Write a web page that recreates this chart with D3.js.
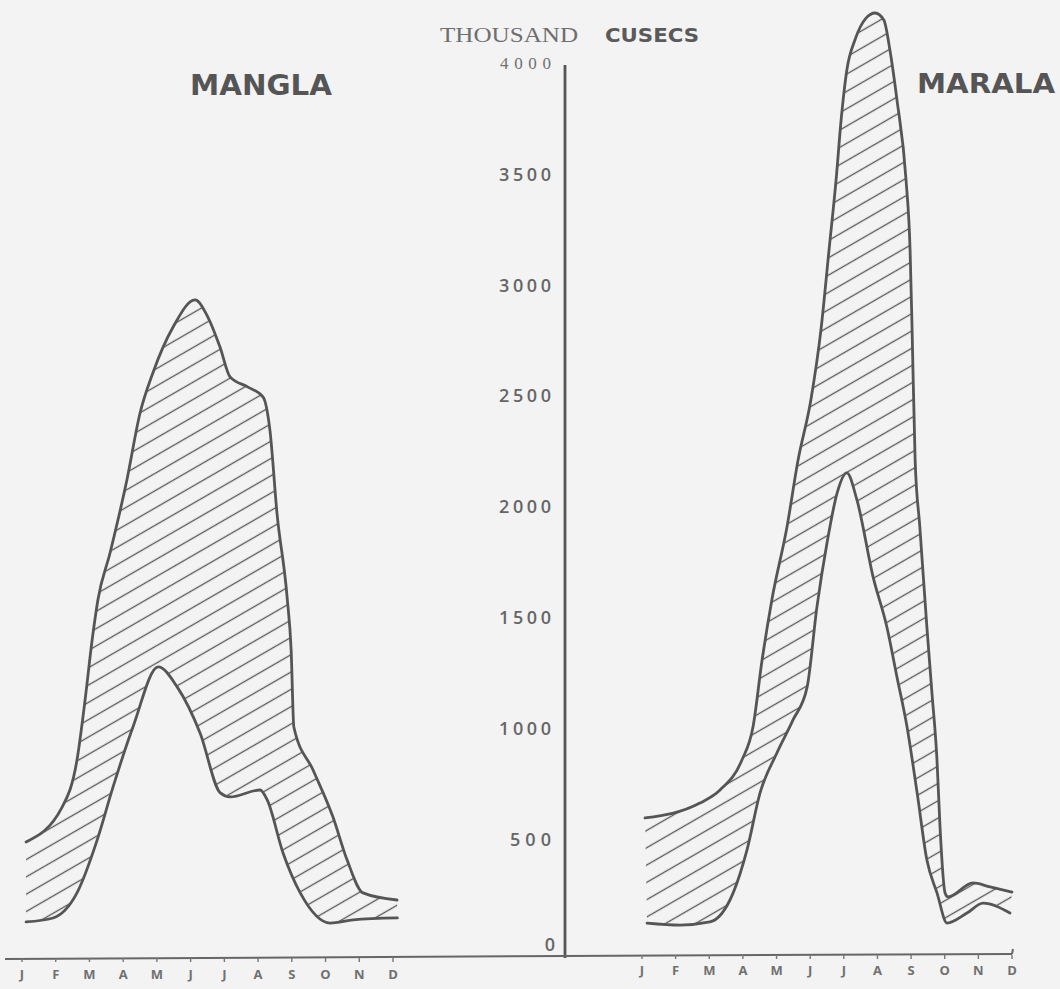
<!DOCTYPE html>
<html><head><meta charset="utf-8">
<script src="https://cdn.jsdelivr.net/npm/d3@7"></script>
<style>
html,body{margin:0;padding:0;background:#f3f3f3;}
svg{display:block;}
</style></head>
<body>
<script>
// ---- data (month index 0=J ... 11=D, value in thousand cusecs) ----
const months = ["J","F","M","A","M","J","J","A","S","O","N","D"];
const yTicks = [0,500,1000,1500,2000,2500,3000,3500,4000];
const manglaUpper = [[0.12,510],[1.19,667],[1.63,879],[1.87,1150],[2.08,1421],[2.25,1601],[2.61,1813],[3.11,2142],[3.50,2444],[3.88,2625],[4.48,2832],[5.13,2954],[5.51,2877],[5.87,2742],[6.17,2607],[6.70,2561],[7.15,2516],[7.35,2368],[7.56,1993],[7.86,1614],[7.98,1375],[8.06,1028],[8.63,834],[9.22,622],[9.64,428],[10.11,280],[11.12,248]];
const manglaLower = [[0.12,149],[0.92,167],[1.63,280],[2.23,519],[2.70,758],[3.29,1028],[4.04,1299],[4.60,1209],[5.28,1001],[5.88,731],[6.17,713],[7.06,744],[7.27,699],[7.74,460],[8.25,280],[9.14,144],[9.82,158],[11.13,167]];
const maralaUpper = [[0.09,618],[1.72,685],[2.32,744],[2.97,879],[3.30,1028],[3.57,1330],[3.86,1601],[4.31,1930],[4.64,2232],[5.02,2503],[5.32,2819],[5.56,3179],[5.77,3495],[5.92,3766],[6.09,3991],[6.33,4126],[6.66,4225],[6.93,4248],[7.19,4216],[7.37,4081],[7.58,3856],[7.85,3495],[7.97,3179],[8.03,2819],[8.12,2232],[8.26,1930],[8.47,1479],[8.62,1182],[8.77,879],[8.86,577],[9.01,280],[9.10,262],[9.84,325],[10.35,307],[11.00,284]];
const maralaLower = [[0.15,144],[1.13,135],[2.02,149],[2.71,280],[3.12,473],[3.51,731],[4.01,911],[4.49,1060],[4.91,1209],[5.20,1569],[5.50,1858],[5.80,2083],[6.09,2174],[6.39,2052],[6.87,1705],[7.28,1479],[7.58,1254],[7.88,1028],[8.18,731],[8.47,428],[8.77,280],[9.07,144],[9.66,189],[10.14,234],[10.94,189]];

const W = 1060, H = 989;
const svg = d3.select("body").append("svg").attr("width", W).attr("height", H);
svg.append("rect").attr("width", W).attr("height", H).attr("fill", "#f3f3f3");

const defs = svg.append("defs");
const pat = defs.append("pattern").attr("id","hatch").attr("patternUnits","userSpaceOnUse")
  .attr("width", 20).attr("height", 15).attr("patternTransform","rotate(-30)");
pat.append("line").attr("x1",-2).attr("x2",22).attr("y1",7.5).attr("y2",7.5)
  .attr("stroke","#555").attr("stroke-width",1.3);

const y = d3.scaleLinear().domain([0,4000]).range([955,68]);
const xL = d3.scaleLinear().domain([0,11]).range([22,393]);
const xR = d3.scaleLinear().domain([0,11]).range([642,1012]);

function drawPanel(x, upper, lower) {
  const line = d3.line().x(d => x(d[0])).y(d => y(d[1])).curve(d3.curveMonotoneX);
  const up = line(upper);
  const lo = line(lower.slice().reverse());
  svg.append("path").attr("d", up + "L" + lo.slice(1) + "Z")
    .attr("fill","url(#hatch)").attr("stroke","none");
  [upper, lower].forEach(s => {
    svg.append("path").attr("d", line(s)).attr("fill","none")
      .attr("stroke","#555").attr("stroke-width",2.8)
      .attr("stroke-linejoin","round").attr("stroke-linecap","round");
  });
}
drawPanel(xL, manglaUpper, manglaLower);
drawPanel(xR, maralaUpper, maralaLower);

// vertical axis
svg.append("line").attr("x1",565).attr("x2",565).attr("y1",y(4000)-3).attr("y2",y(0)+3)
  .attr("stroke","#555").attr("stroke-width",2.8);
// horizontal axis
svg.append("line").attr("x1",5).attr("x2",565).attr("y1",y(0)+4).attr("y2",y(0)+1)
  .attr("stroke","#666").attr("stroke-width",2);
svg.append("line").attr("x1",565).attr("x2",1012).attr("y1",y(0)+1).attr("y2",y(0)-1)
  .attr("stroke","#666").attr("stroke-width",2);
svg.append("line").attr("x1",1012).attr("x2",1013).attr("y1",y(0)-1).attr("y2",y(0)-6)
  .attr("stroke","#666").attr("stroke-width",2);

// y tick labels
const tickText = svg.selectAll("text.yt").data(yTicks).enter().append("text")
  .attr("class","yt")
  .attr("x", d => d === 0 ? 555 : 551)
  .attr("y", d => d === 0 ? y(d) - 9 : y(d) - 3)
  .attr("text-anchor","end").attr("dominant-baseline","middle")
  .attr("font-family", d => d === 4000 ? "Liberation Serif, serif" : "Open Sans, sans-serif")
  .attr("font-weight", d => d === 4000 ? 400 : 600)
  .attr("font-size", d => d === 4000 ? 17 : 18)
  .attr("fill", d => d === 4000 ? "#707070" : "#666")
  .text(d => d);
tickText.filter(d => d !== 0)
  .attr("textLength", d => d === 500 ? 41 : d === 4000 ? 51 : 52)
  .attr("lengthAdjust","spacing");

// month labels and ticks
function monthAxis(x, yBase, yText) {
  months.forEach((m,i) => {
    svg.append("line").attr("x1",x(i)).attr("x2",x(i)).attr("y1",yBase).attr("y2",yBase+4)
      .attr("stroke","#777").attr("stroke-width",1.4);
    svg.append("text").attr("x",x(i)).attr("y",yText).attr("text-anchor","middle")
      .attr("dominant-baseline","middle").attr("font-family","Open Sans, sans-serif")
      .attr("font-weight",700).attr("font-size",13).attr("fill","#707070").text(m);
  });
}
monthAxis(xL, y(0)+3, 976);
monthAxis(xR, y(0), 972);

// titles
svg.append("text").attr("x",440).attr("y",42).attr("font-family","Liberation Serif, serif")
  .attr("font-size",20).attr("fill","#6e6e6e")
  .attr("textLength",138).attr("lengthAdjust","spacingAndGlyphs").text("THOUSAND");
svg.append("text").attr("x",605).attr("y",42).attr("font-family","DejaVu Sans, sans-serif")
  .attr("font-weight",700).attr("font-size",19).attr("fill","#5a5a5a")
  .attr("textLength",94).attr("lengthAdjust","spacingAndGlyphs").text("CUSECS");
svg.append("text").attr("x",190).attr("y",95).attr("font-family","DejaVu Sans, sans-serif")
  .attr("font-weight",700).attr("font-size",29).attr("fill","#555")
  .attr("textLength",142).attr("lengthAdjust","spacingAndGlyphs").text("MANGLA");
svg.append("text").attr("x",917).attr("y",93).attr("font-family","DejaVu Sans, sans-serif")
  .attr("font-weight",700).attr("font-size",27).attr("fill","#555")
  .attr("textLength",138).attr("lengthAdjust","spacingAndGlyphs").text("MARALA");
</script>
</body></html>
